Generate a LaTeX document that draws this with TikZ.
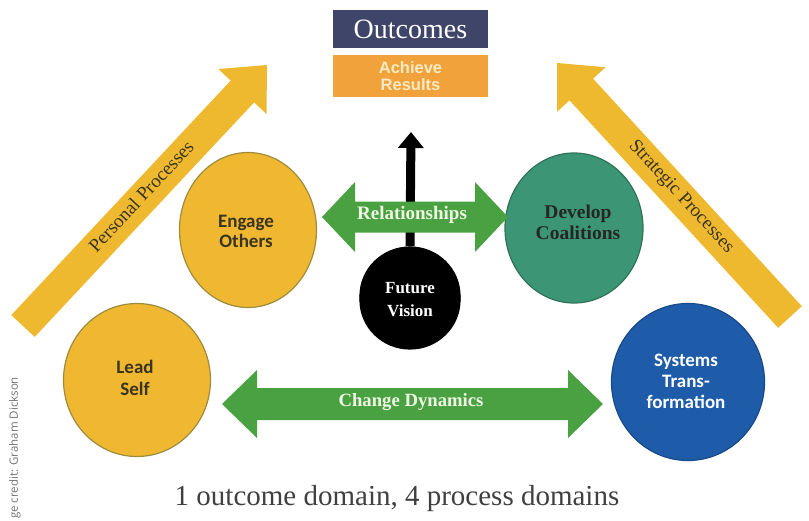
\documentclass[tikz,border=0pt]{standalone}
\usepackage{fontspec}
\setmainfont{Liberation Serif}
\newfontfamily\sansf{Liberation Sans}
\newfontfamily\calib{Carlito}
\newfontfamily\credf{Open Sans}
\usetikzlibrary{shapes.geometric,arrows.meta}
\definecolor{ylw}{HTML}{EEB92F}
\definecolor{ycirc}{HTML}{F0B731}
\definecolor{yline}{HTML}{9C8D3E}
\definecolor{gcirc}{HTML}{3C9676}
\definecolor{gline}{HTML}{2E7358}
\definecolor{bcirc}{HTML}{1E5BA8}
\definecolor{bline}{HTML}{184A8A}
\definecolor{garrow}{HTML}{4AA142}
\definecolor{navy}{HTML}{3E4568}
\definecolor{orng}{HTML}{F1A23A}
\definecolor{paleylw}{HTML}{FBEBC4}
\definecolor{palegrn}{HTML}{EEF8E4}
\definecolor{darktxt}{HTML}{3A3520}
\newcommand\dblarrow[6]{% x1,x2,yc,headlen,shafthalf,headhalf
  \fill[garrow] (#1,#3) -- ({#1+#4},{#3-#6}) -- ({#1+#4},{#3-#5}) -- ({#2-#4},{#3-#5})
    -- ({#2-#4},{#3-#6}) -- (#2,#3) -- ({#2-#4},{#3+#6}) -- ({#2-#4},{#3+#5})
    -- ({#1+#4},{#3+#5}) -- ({#1+#4},{#3+#6}) -- cycle;}
\begin{document}
\begin{tikzpicture}[x=1pt,y=-1pt,
  domcirc/.style={ellipse,draw,line width=1.2pt,align=center,inner sep=0pt},
  boxstyle/.style={rectangle,minimum width=155pt,align=center,inner sep=0pt},
  arrowtext/.style={font=\bfseries\fontsize{19}{21}\selectfont,text=palegrn},
  proctext/.style={text=darktxt,font=\fontsize{19}{21}\selectfont}]
\useasboundingbox (0,0) rectangle (809,520);
% yellow process arrows
\fill[ylw] (11.3,315.1) -- (230.7,80.6) -- (218.3,69.0) -- (267,65) -- (266.5,114.0)
  -- (254.1,102.4) -- (34.7,336.9) -- cycle;
\fill[ylw] (778.2,327.8) -- (569.5,100.3) -- (557.0,111.8) -- (557,63) -- (605.6,67.2)
  -- (593.1,78.7) -- (801.8,306.2) -- cycle;
\node[proctext,rotate=46.9] (pp) at (141,196) {Personal Processes};
\node[proctext,rotate=-47.4] (sp) at (681,197) {Strategic Processes};
% outcome boxes
\node[boxstyle,fill=navy,minimum height=38pt,text=white,font=\fontsize{28}{30}\selectfont] (out) at (410.5,29) {Outcomes};
\node[boxstyle,fill=orng,minimum height=42pt,text=paleylw,font=\sansf\bfseries\fontsize{16.5}{17}\selectfont] (ach) at (410.5,76) {Achieve\\Results};
% future vision and its arrow
\node[domcirc,fill=black,draw=black,minimum width=100pt,minimum height=98pt] (fv) at (410,296) {};
\coordinate (aim) at (411,132);
\draw[line width=9pt,-{Triangle[width=25pt,length=16pt]}] (fv.north) -- (aim);
\node[domcirc,fill=black,draw=black,minimum width=100pt,minimum height=98pt,text=white,
  font=\bfseries\fontsize{17}{23}\selectfont] (fvt) at (410,300) {Future\\Vision};
% domain circles
\node[domcirc,fill=ycirc,draw=yline,minimum width=137pt,minimum height=155pt,
  font=\calib\bfseries\fontsize{19}{20}\selectfont,text=darktxt] (eo) at (248,230) {};
\node[font=\calib\bfseries\fontsize{19}{20}\selectfont,text=darktxt,align=center] (eot) at (246,231) {Engage\\Others};
\node[domcirc,fill=ycirc,draw=yline,minimum width=147pt,minimum height=153pt] (ls) at (137,380) {};
\node[font=\calib\bfseries\fontsize{19}{22}\selectfont,text=darktxt,align=center] (lst) at (135,378) {Lead\\Self};
\node[domcirc,fill=gcirc,draw=gline,minimum width=138pt,minimum height=150pt] (dc) at (574,228) {};
\node[font=\bfseries\fontsize{19.5}{21}\selectfont,text=black!85,align=center] (dct) at (578,222) {Develop\\Coalitions};
\node[domcirc,fill=bcirc,draw=bline,minimum width=153pt,minimum height=157pt] (st) at (688,382) {};
\node[font=\calib\bfseries\fontsize{19}{21}\selectfont,text=white,align=center] (stt) at (686,381) {Systems\\Trans-\\formation};
% green double arrows
\dblarrow{322}{508}{217}{33}{15.5}{35}
\node[arrowtext] (rel) at (412,215) {Relationships};
\dblarrow{222}{603}{404}{35}{16}{34}
\node[arrowtext,font=\bfseries\fontsize{18.7}{20}\selectfont] (cd) at (411,402) {Change Dynamics};
% caption and credit
\node[font=\fontsize{29}{31}\selectfont,text=black!75,anchor=base] (cap) at (397,505) {1 outcome domain, 4 process domains};
\node[rotate=90,anchor=west,inner sep=0pt,font=\credf\fontsize{11.5}{13}\selectfont,text=black!55] (cred) at (15,519) {ge credit: Graham Dickson};
\end{tikzpicture}
\end{document}
